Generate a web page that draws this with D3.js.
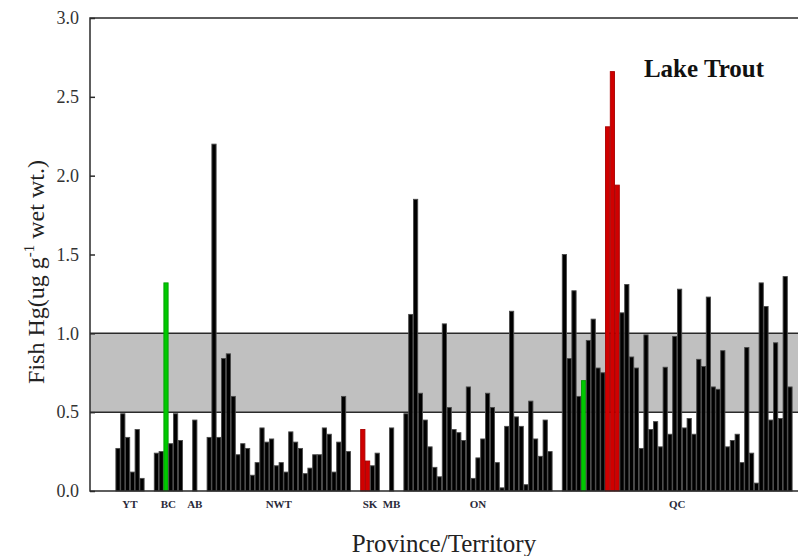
<!DOCTYPE html>
<html>
<head>
<meta charset="utf-8">
<script src="https://cdn.jsdelivr.net/npm/d3@7"></script>
<style>
  body { margin: 0; background: #fff; }
  svg { display: block; }
  text { font-family: "Liberation Serif", "Times New Roman", serif; }
</style>
</head>
<body>
<svg id="chart"></svg>
<script>
var width = 798;
var height = 556;

// fish Hg per lake, left to right (0 = empty slot between provinces)
var hgValues = [
  0.27, 0.49, 0.34, 0.12, 0.39, 0.08, 0, 0,
  0.24, 0.25, 1.32, 0.30, 0.49, 0.32, 0, 0,
  0.45, 0, 0,
  0.34, 2.20, 0.34, 0.84, 0.87, 0.60, 0.23, 0.30, 0.27, 0.10,
  0.18, 0.40, 0.31, 0.33, 0.16, 0.18, 0.12, 0.375, 0.31, 0.27,
  0.11, 0.145, 0.23, 0.23, 0.40, 0.36, 0.12, 0.31, 0.60, 0.25, 0, 0,
  0.39, 0.19, 0.16, 0.24, 0, 0,
  0.40, 0, 0,
  0.49, 1.12, 1.85, 0.62, 0.45, 0.28, 0.15, 0.09, 1.06, 0.53,
  0.39, 0.37, 0.32, 0.66, 0.08, 0.21, 0.33, 0.62, 0.53, 0.18,
  0.02, 0.41, 1.14, 0.47, 0.41, 0.04, 0.57, 0.33, 0.22, 0.45, 0.25, 0, 0,
  1.50, 0.84, 1.27, 0.60, 0.70, 0.955, 1.09, 0.78, 0.75, 2.31,
  2.66, 1.94, 1.13, 1.31, 0.85, 0.78, 0.27, 0.99, 0.39, 0.44,
  0.28, 0.785, 0.36, 0.98, 1.28, 0.40, 0.46, 0.36, 0.835, 0.79,
  1.23, 0.66, 0.645, 0.89, 0.28, 0.32, 0.36, 0.18, 0.91, 0.24,
  0.05, 1.32, 1.17, 0.45, 0.94, 0.46, 1.36, 0.66
];

var greenBars = [10, 97];
var redBars = [51, 52, 102, 103, 104];

var provinces = ["YT", "BC", "AB", "NWT", "SK", "MB", "ON", "QC"];
var provinceFirst = [0, 8, 16, 19, 51, 57, 60, 93];
var provinceLast = [5, 13, 16, 48, 54, 57, 90, 140];

var yTicks = [0, 0.5, 1.0, 1.5, 2.0, 2.5, 3.0];
var bandLow = 0.5, bandHigh = 1.0;

var plotLeft = 90, plotRight = 798, plotTop = 18, plotBottom = 491;

var svg = d3.select("#chart")
    .attr("width", width)
    .attr("height", height);

var x = d3.scaleBand()
    .domain(d3.range(hgValues.length))
    .range([115.6, 792.4])
    .paddingInner(0.12)
    .paddingOuter(0.06);

var y = d3.scaleLinear()
    .domain([0, 3])
    .range([plotBottom, plotTop]);

// grey reference band
svg.append("rect")
    .attr("x", plotLeft)
    .attr("y", y(bandHigh))
    .attr("width", plotRight - plotLeft)
    .attr("height", y(bandLow) - y(bandHigh))
    .attr("fill", "#c0c0c0");

svg.selectAll("line.ref")
    .data([bandLow, bandHigh])
    .enter()
    .append("line")
        .attr("class", "ref")
        .attr("x1", plotLeft)
        .attr("x2", plotRight)
        .attr("y1", d => y(d))
        .attr("y2", d => y(d))
        .attr("stroke", "#2a2a2a")
        .attr("stroke-width", 1.5);

function barColor(i) {
    if (greenBars.indexOf(i) >= 0) return "#00c800";
    if (redBars.indexOf(i) >= 0) return "#d00000";
    return "#000";
}

var bars = hgValues.map(function(v, i) { return { i: i, v: v }; })
    .filter(d => d.v > 0);

svg.selectAll("rect.bar")
    .data(bars)
    .enter()
    .append("rect")
        .attr("class", "bar")
        .attr("x", d => x(d.i))
        .attr("y", d => y(d.v))
        .attr("width", x.bandwidth())
        .attr("height", d => y(0) - y(d.v))
        .attr("fill", d => barColor(d.i))
        .attr("stroke", d => barColor(d.i) == "#000" ? "#4a4a4a" : d3.color(barColor(d.i)).darker(0.6))
        .attr("stroke-width", 0.9);

// frame
svg.append("path")
    .attr("d", `M${plotRight},${plotTop}H${plotLeft}V${plotBottom}H${plotRight}`)
    .attr("fill", "none")
    .attr("stroke", "#2a2a2a")
    .attr("stroke-width", 1.5);

var yAxis = svg.append("g")
    .attr("transform", `translate(${plotLeft},0)`)
    .call(d3.axisLeft(y).tickValues(yTicks).tickFormat(d3.format(".1f"))
        .tickSizeInner(-5).tickSizeOuter(0).tickPadding(11));
yAxis.select(".domain").remove();
yAxis.selectAll("line").attr("stroke", "#2a2a2a").attr("stroke-width", 1.5);
yAxis.selectAll("text")
    .attr("font-size", "18px")
    .attr("font-family", "Liberation Serif, serif")
    .attr("fill", "#333");

// province labels
svg.selectAll("text.prov")
    .data(provinces)
    .enter()
    .append("text")
        .attr("class", "prov")
        .attr("x", (d, i) => (x(provinceFirst[i]) + x(provinceLast[i]) + x.bandwidth()) / 2)
        .attr("y", 508)
        .attr("text-anchor", "middle")
        .attr("font-size", "11px")
        .attr("font-weight", "bold")
        .attr("fill", "#2a2a3a")
        .text(d => d);

svg.append("text")
    .attr("x", 444)
    .attr("y", 552)
    .attr("text-anchor", "middle")
    .attr("font-size", "25px")
    .attr("fill", "#222")
    .text("Province/Territory");

var ylab = svg.append("text")
    .attr("transform", "translate(44,272) rotate(-90)")
    .attr("text-anchor", "middle")
    .attr("font-size", "24px")
    .attr("fill", "#222");
ylab.append("tspan").text("Fish Hg(ug g");
ylab.append("tspan").attr("font-size", "15px").attr("dy", -10).text("-1");
ylab.append("tspan").attr("dy", 10).text(" wet wt.)");

svg.append("text")
    .attr("x", 704)
    .attr("y", 77)
    .attr("text-anchor", "middle")
    .attr("font-size", "25px")
    .attr("font-weight", "bold")
    .attr("fill", "#111")
    .text("Lake Trout");
</script>
</body>
</html>
